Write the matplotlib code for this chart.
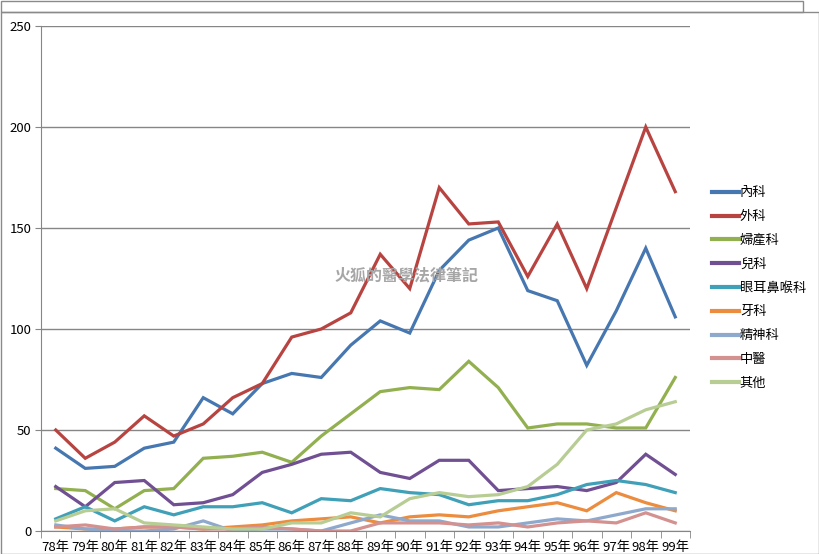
import numpy as np
import matplotlib
matplotlib.use('Agg')
import matplotlib.pyplot as plt
from matplotlib.patches import Rectangle

plt.rcParams['font.family'] = ['Noto Sans CJK TC', 'DejaVu Sans']

# 年度
years = ['78年', '79年', '80年', '81年', '82年', '83年', '84年', '85年', '86年', '87年', '88年',
         '89年', '90年', '91年', '92年', '93年', '94年', '95年', '96年', '97年', '98年', '99年']

# 各科數值
neike   = [41, 31, 32, 41, 44, 66, 58, 73, 78, 76, 92, 104, 98, 129, 144, 150, 119, 114, 82, 109, 140, 106]
waike   = [50, 36, 44, 57, 47, 53, 66, 73, 96, 100, 108, 137, 120, 170, 152, 153, 126, 152, 120, 160, 200, 168]
fuchan  = [21, 20, 11, 20, 21, 36, 37, 39, 34, 47, 58, 69, 71, 70, 84, 71, 51, 53, 53, 51, 51, 76]
erke    = [22, 12, 24, 25, 13, 14, 18, 29, 33, 38, 39, 29, 26, 35, 35, 20, 21, 22, 20, 24, 38, 28]
ent     = [6, 12, 5, 12, 8, 12, 12, 14, 9, 16, 15, 21, 19, 18, 13, 15, 15, 18, 23, 25, 23, 19]
yake    = [2, 1, 1, 2, 2, 1, 2, 3, 5, 6, 7, 4, 7, 8, 7, 10, 12, 14, 10, 19, 14, 10]
jingshen = [3, 1, 0, 0, 1, 5, 0, 1, 1, 0, 4, 8, 5, 5, 2, 2, 4, 6, 5, 8, 11, 11]
zhongyi = [2, 3, 1, 2, 2, 1, 1, 2, 1, 0, 0, 4, 4, 4, 3, 4, 2, 4, 5, 4, 9, 4]
qita    = [5, 10, 11, 4, 3, 2, 1, 1, 4, 4, 9, 7, 16, 19, 17, 18, 22, 33, 50, 53, 60, 64]

series = [neike, waike, fuchan, erke, ent, yake, jingshen, zhongyi, qita]
names = ['內科', '外科', '婦產科', '兒科', '眼耳鼻喉科', '牙科', '精神科', '中醫', '其他']
colors = ['#4677B0', '#B84441', '#92B050', '#714F93', '#40A0B8', '#EB8C3E', '#8FA9CC', '#D39190', '#B7CD94']

fig = plt.figure(figsize=(8.2, 5.54), dpi=100)

# 視窗外框
fig.patches.append(Rectangle((0.5 / 820, 1 - 12 / 554), 803 / 820, 11.5 / 554, transform=fig.transFigure,
                             fill=False, edgecolor='#8a8a8a', lw=1.0))
fig.patches.append(Rectangle((0.5 / 820, 0.5 / 554), 819 / 820, 541.5 / 554, transform=fig.transFigure,
                             fill=False, edgecolor='#8a8a8a', lw=1.0))

ax = fig.add_axes([41 / 820, 1 - 531 / 554, (690 - 41) / 820, (531 - 26) / 554])
x = np.arange(len(years))

for s, n, c in zip(series, names, colors):
    ax.plot(x, s, color=c, lw=2.3, label=n, solid_joinstyle='miter')

ax.set_xlim(-0.5, len(years) - 0.5)
ax.set_ylim(0, 250)
ax.set_yticks(np.arange(0, 251, 50))
ax.yaxis.grid(True, color='#868686', lw=1.0)
ax.set_axisbelow(True)

ax.set_xticks(x)
ax.set_xticklabels(years, fontsize=9.5)
ax.set_xticks(np.arange(-0.5, len(years), 1), minor=True)
ax.tick_params(axis='x', which='major', length=0, pad=7)
ax.tick_params(axis='x', which='minor', length=5, color='#868686', direction='out')
ax.tick_params(axis='y', length=4, color='#868686', labelsize=9.5, pad=3)

for sp in ['top', 'right']:
    ax.spines[sp].set_visible(False)
for sp in ['left', 'bottom']:
    ax.spines[sp].set_color('#868686')

ax.text(0.563, 0.507, '火狐的醫學法律筆記', transform=ax.transAxes, fontsize=11.5,
        fontweight='bold', color='#a6a6a6', ha='center', va='center')

leg = ax.legend(loc='center left', bbox_to_anchor=(1.026, 0.481), frameon=False, fontsize=9.5,
                handlelength=2.0, handletextpad=0.1, labelspacing=0.82, borderaxespad=0)
for line in leg.get_lines():
    line.set_linewidth(3)

fig.savefig('out.png', dpi=100)
